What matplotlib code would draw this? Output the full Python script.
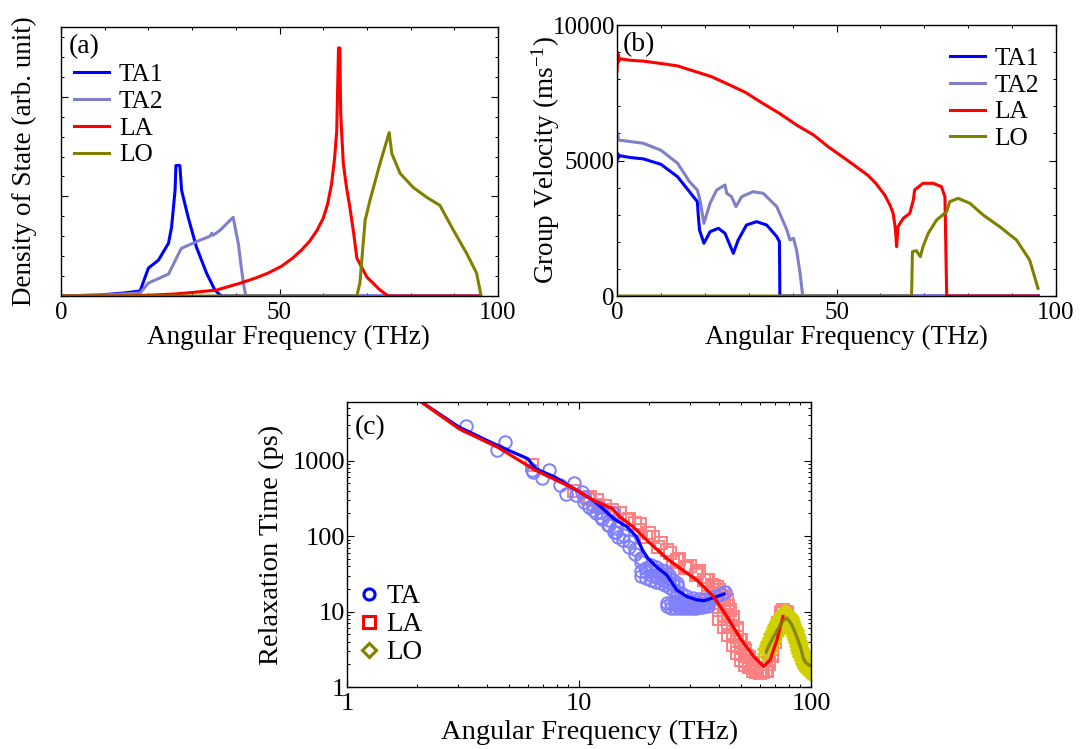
import matplotlib
matplotlib.use('Agg')
import matplotlib.pyplot as plt
from matplotlib.lines import Line2D
from matplotlib.ticker import MultipleLocator, NullFormatter, LogLocator

plt.rcParams['font.family'] = ['Liberation Serif', 'DejaVu Serif']
plt.rcParams['mathtext.fontset'] = 'custom'
plt.rcParams['mathtext.rm'] = 'Liberation Serif'
plt.rcParams['mathtext.it'] = 'Liberation Serif:italic'

# ---------------- (a) density of states ----------------
ta1_f = [0, 8.9, 14.3, 18.1, 20.0, 22.3, 24.6, 25.3, 26.1, 26.3, 27.2, 27.6, 29.1, 31.0, 33.3, 35.2, 36.4, 37.0, 96]
ta1_d = [0, 0.01, 0.03, 0.05, 0.28, 0.36, 0.53, 0.69, 1.06, 1.31, 1.31, 1.06, 0.79, 0.49, 0.23, 0.06, 0.01, 0, 0]
ta2_f = [0, 9.6, 18.1, 20.0, 24.6, 27.2, 27.6, 31.8, 34.1, 34.5, 34.8, 36.4, 39.4, 40.6, 41.3, 41.9, 42.3, 96]
ta2_d = [0, 0.01, 0.03, 0.13, 0.22, 0.45, 0.48, 0.56, 0.60, 0.63, 0.61, 0.66, 0.79, 0.52, 0.27, 0.09, 0, 0]
la_f = [0, 15, 20, 26, 30, 35.6, 41.1, 44.5, 47.4, 50.5, 53.0, 55.0, 56.9, 58.6, 60.0, 61.0, 61.9, 62.6, 63.1, 63.5,
        63.8, 64.0, 64.6, 65.3, 66.1, 67.0, 67.7, 70.0, 73.0, 74.9, 96]
la_d = [0, 0.003, 0.008, 0.02, 0.035, 0.06, 0.13, 0.18, 0.23, 0.30, 0.38, 0.46, 0.55, 0.66, 0.78, 0.92, 1.12, 1.38, 1.66,
        2.49, 2.49, 1.83, 1.33, 1.10, 0.89, 0.62, 0.38, 0.19, 0.06, 0, 0]
lo_f = [0, 67.7, 68.4, 69.0, 69.6, 70.7, 73.0, 75.1, 75.7, 77.6, 80.6, 83.7, 86.7, 89.8, 92.8, 95.1, 96.0, 96.1]
lo_d = [0, 0, 0.13, 0.45, 0.76, 0.96, 1.33, 1.64, 1.43, 1.23, 1.09, 0.99, 0.91, 0.66, 0.43, 0.23, 0.03, 0]

# ---------------- (b) group velocity ----------------
vta1_f = [0, 0.2, 0.3, 0.5, 3.0, 6.0, 10.0, 13.8, 16.5, 18.3, 18.5, 18.8, 19.8, 21.2, 23.1, 24.6, 26.5, 27.6,
          29.5, 31.8, 34.1, 36.4, 37.0, 37.1, 96]
vta1_v = [5000, 5250, 5100, 5180, 5110, 5060, 4860, 4400, 3850, 3480, 3000, 2435, 1944, 2373, 2498, 2314, 1575, 2066,
          2620, 2742, 2620, 2188, 2004, 0, 0]
vta2_f = [0, 0.15, 0.3, 3.0, 6.0, 10.0, 13.8, 16.5, 18.3, 18.9, 19.8, 21.2, 22.7, 24.6, 25.0, 26.1, 27.1, 28.4,
          31.0, 33.3, 36.4, 38.7, 39.4, 40.2, 40.9, 41.7, 42.3, 96]
vta2_v = [5900, 6000, 5756, 5700, 5635, 5380, 4900, 4220, 3911, 3542, 2683, 3420, 3911, 4096, 3789, 3664, 3295,
          3664, 3849, 3789, 3295, 2435, 2066, 2129, 1697, 838, 0, 0]
vla_f = [0, 0.1, 0.2, 0.3, 0.5, 0.8, 3.0, 6.1, 10.0, 13.8, 17.5, 21.5, 25.5, 29.3, 33.0, 37.0, 41.0, 44.8, 48.1,
         53.2, 57.1, 59.0, 61.0, 62.2, 62.9, 63.4, 63.7, 64.0, 65.2, 66.7, 67.5, 67.8, 69.7, 72.0, 73.9, 74.7, 75.1, 96]
vla_v = [8300, 9000, 8600, 8900, 8700, 8750, 8700, 8665, 8580, 8490, 8300, 8095, 7800, 7510, 7130, 6740, 6300,
         5940, 5510, 4925, 4460, 4150, 3720, 3350, 3050, 2500, 1820, 2555, 2865, 3050, 3542, 3911, 4159, 4159,
         4036, 3664, 0, 0]
vlo_f = [0, 67.1, 67.3, 68.2, 69.1, 69.7, 70.9, 72.8, 75.1, 75.8, 77.7, 80.4, 83.4, 87.2, 91.0, 94.0, 95.9]
vlo_v = [0, 0, 1636, 1673, 1451, 1820, 2314, 2805, 3112, 3480, 3603, 3420, 2989, 2555, 2066, 1328, 283]

# ---------------- (c) relaxation time ----------------
line_ta_f = [2.0, 3.04, 4.45, 6.02, 6.5, 7.86, 9.5, 11.5, 12.6, 14.1, 16.1, 17.7, 18.8, 19.6, 21.6, 23.9, 26.4,
             29.2, 32.2, 34.5, 37.3, 39.3, 42.2]
line_ta_t = [6600, 2790, 1595, 1062, 783, 608, 427, 299, 235, 171, 133, 98, 65, 53, 39, 30.5, 19.3, 15.8, 14.3,
             13.9, 15.0, 15.8, 17.1]
line_la_f = [2.0, 3.04, 4.45, 6.5, 9.5, 11.5, 13.9, 15.0, 17.1, 19.6, 23.9, 27.3, 32.2, 38.0, 43.4, 49.5, 56.6,
             62.5, 66.7, 71.3, 75.7]
line_la_t = [6600, 2650, 1515, 745, 427, 300, 232, 180, 133, 88.5, 50.7, 37.4, 26.2, 15.8, 8.6, 4.44, 2.54, 1.88,
             2.3, 4.2, 8.6]
line_lo_f = [64.0, 65.6, 69.0, 72.5, 75.7, 78.7, 82.0, 85.6, 89.9, 92.6, 95.0, 97.7, 100.0]
line_lo_t = [2.9, 3.45, 4.7, 6.0, 7.6, 8.2, 7.0, 5.2, 3.45, 2.42, 2.1, 1.97, 1.9]

ta_f = [3.27, 4.42, 4.8, 6.27, 6.35, 6.93, 7.45, 8.32, 8.75, 9.5, 9.68, 10.3, 11.0, 11.8, 12.2, 12.6, 13.3, 13.95,
        14.2, 14.7,
        10.5, 10.5, 11.5, 11.5, 12.5, 12.5, 13.5, 13.5, 14.5, 14.5, 15.5, 15.5, 16.5, 16.5, 17.5, 17.5, 18.5, 18.5,
        18.5, 18.5, 19.5, 19.5, 19.5, 20.5, 20.5, 20.5, 20.5, 21.5, 21.5, 21.5, 21.5, 22.5, 22.5, 22.5, 22.5,
        23.5, 23.5, 23.5, 23.5, 24.5, 24.5, 24.5, 24.5, 25.5, 25.5, 25.5, 26.5, 26.5, 26.5,
        24, 24, 25, 25, 26, 26, 26, 27, 27, 27, 28, 28, 28, 29, 29, 29, 30, 30, 30, 31, 31, 31, 32, 32, 33, 33,
        34, 34, 35, 35, 36, 36,
        27.5, 29, 31, 33, 35, 37, 39, 41, 42.6]
ta_t = [2860, 1376, 1775, 748, 700, 598, 748, 473, 367, 499, 349, 386, 244, 200, 244, 171, 140, 200, 114, 98,
        330, 280, 260, 220, 210, 180, 165, 140, 130, 112, 105, 90, 85, 72, 68, 58,
        52, 46, 30, 35, 28, 33, 38, 26, 31, 36, 42, 25, 29, 34, 39, 24, 27.5, 32, 36,
        22.5, 26, 30, 34, 21, 24.5, 28, 31, 19.5, 23, 26.5, 18, 21.5, 24,
        11.7, 13, 11.3, 12.8, 11.2, 12.5, 14, 11.1, 12.4, 14, 11.1, 12.3, 13.8, 11.1, 12.2, 13.7, 11.1, 12.2, 13.6,
        11.2, 12.3, 13.8, 11.3, 12.4, 11.4, 12.5, 11.5, 12.6, 11.7, 12.8, 12.0, 13.0,
        17.5, 16, 15, 14.5, 14.8, 15.2, 16, 17, 18.4]

la_sq_f = [6.26, 9.5, 10.9, 12.1, 14.2, 11.1, 11.9, 13.9, 13.0, 16.1, 16.5, 17.5, 18.1, 19.5, 20.0, 21.9, 22.5,
           24.6, 25.5, 27.0, 28.6, 30.0, 32.0, 33.0, 34.5, 37.3, 40.2,
           15.0, 18.3, 20.9, 23.9, 26.4, 29.2, 32.2, 35.6, 39.3, 41.9, 43.4, 44.9, 46.3, 47.9, 49.5, 51.2, 52.9,
           55.8, 58.5, 61.5, 64.6, 67.6, 71.3, 75.0, 78.7,
           36, 36, 36, 38, 38, 38, 40, 40, 40, 40, 42, 42, 42, 42, 44, 44, 44, 44, 46, 46, 46, 46, 48, 48, 48, 48,
           50, 50, 50, 50, 52, 52, 52, 52, 54, 54, 54, 56, 56, 56, 58, 58, 60, 60, 62, 62, 64,
           66, 66, 68, 68, 70, 70, 72, 72, 74, 74, 76, 78]
la_sq_t = [868, 398, 306, 257, 200, 331, 299, 221, 250, 162, 170, 150, 120, 98, 110, 72, 80, 59, 45, 50, 37.4, 40,
           30.5, 34, 26, 22.5, 19.3,
           200, 147, 98, 65, 48, 39, 32, 26, 21.4, 17.5, 14.3, 10.5, 7.8, 5.7, 4.2, 3.3, 2.54, 1.97, 1.69, 1.6,
           1.65, 2.54, 6.3, 10, 9.5,
           26, 20, 15.5, 22, 17, 13, 19.5, 14.5, 10.5, 8, 16, 12, 8.8, 6.3, 12, 9, 6.6, 4.9, 8.5, 6.4, 4.8, 3.6,
           6, 4.6, 3.5, 2.8, 4.2, 3.4, 2.7, 2.3, 3.1, 2.6, 2.2, 1.95, 2.5, 2.1, 1.85, 2.1, 1.8, 1.65, 1.8, 1.6,
           1.65, 1.55, 1.6, 1.58, 1.7,
           2.2, 2.0, 3.2, 2.7, 4.8, 4.0, 7.0, 6.0, 9.5, 8.5, 10.5, 9.8]

lo_dm_f = [64, 65, 66, 67, 68, 69, 70, 71, 72, 73, 74, 75, 76, 77, 78, 79, 80, 81, 82, 83, 84, 85, 86, 87, 88, 89, 90,
           91, 92, 93, 94, 95, 96, 97, 98, 99, 100,
           64, 65, 66, 67, 68, 69, 70, 71, 72, 73, 74, 75, 76, 77, 78, 79, 80, 81, 82, 83, 84, 85, 86, 87, 88, 89, 90,
           91, 92, 93, 94, 95, 96, 97, 98, 99, 100]
lo_dm_t = [3.2, 3.6, 4.0, 4.5, 5.0, 5.5, 6.0, 6.6, 7.2, 7.8, 8.4, 9.0, 9.4, 9.6, 9.5, 9.2, 8.7, 8.1, 7.5, 6.9, 6.3, 5.7,
           5.1, 4.6, 4.1, 3.7, 3.3, 3.0, 2.7, 2.5, 2.3, 2.15, 2.05, 2.0, 1.95, 1.95, 1.95,
           2.7, 3.0, 3.4, 3.8, 4.2, 4.7, 5.1, 5.6, 6.1, 6.6, 7.1, 7.6, 8.0, 8.2, 8.1, 7.8, 7.4, 6.9, 6.4, 5.9, 5.4,
           4.8, 4.3, 3.9, 3.5, 3.1, 2.8, 2.55, 2.3, 2.1, 1.95, 1.85, 1.75, 1.7, 1.65, 1.65, 1.65]

C_TA1 = '#0000ff'
C_TA2 = '#8080c8'
C_LA = '#ff0000'
C_LO = '#808000'

W, H = 1083, 749
fig = plt.figure(figsize=(W / 100, H / 100), dpi=100)


def box(l, r, t, b):
    return [l / W, 1 - b / H, (r - l) / W, (b - t) / H]


def style(ax, fs):
    ax.tick_params(which='both', direction='in', top=True, right=True, labelsize=fs)
    ax.tick_params(which='major', length=5, width=0.8, pad=4)
    ax.tick_params(which='minor', length=2.5, width=0.7)
    ax.tick_params(axis='y', which='major', pad=1.5)
    for s in ax.spines.values():
        s.set_linewidth(1.0)


LFS = 19.5
TFS = 18
LEG = dict(frameon=False, fontsize=18.3, borderpad=0, borderaxespad=0, handlelength=1.36,
           handletextpad=0.4, labelspacing=0.16)

# (a)
axa = fig.add_axes(box(61, 498, 27, 296))
axa.plot(ta1_f, ta1_d, color=C_TA1, lw=2.2, label='TA1')
axa.plot(ta2_f, ta2_d, color=C_TA2, lw=2.2, label='TA2')
axa.plot(la_f, la_d, color=C_LA, lw=2.2, label='LA')
axa.plot(lo_f, lo_d, color=C_LO, lw=2.2, label='LO')
axa.set_xlim(0, 100)
axa.set_ylim(0, 2.7)
axa.xaxis.set_major_locator(MultipleLocator(50))
axa.xaxis.set_minor_locator(MultipleLocator(10))
axa.yaxis.set_major_locator(MultipleLocator(1))
axa.yaxis.set_minor_locator(MultipleLocator(0.2))
style(axa, TFS)
axa.set_yticklabels([])
axa.set_xlabel('Angular Frequency (THz)', fontsize=LFS)
axa.xaxis.set_label_coords(0.521, -0.108)
axa.set_ylabel('Density of State (arb. unit)', fontsize=LFS)
axa.yaxis.set_label_coords(-0.055, 0.5)
axa.text(0.018, 0.975, '(a)', transform=axa.transAxes, ha='left', va='top', fontsize=20)
axa.legend(loc='upper left', bbox_to_anchor=(0.030, 0.866), **LEG)

# (b)
axb = fig.add_axes(box(617, 1056, 25, 296))
axb.plot(vta1_f, vta1_v, color=C_TA1, lw=2.2, label='TA1')
axb.plot(vta2_f, vta2_v, color=C_TA2, lw=2.2, label='TA2')
axb.plot(vla_f, vla_v, color=C_LA, lw=2.2, label='LA')
axb.plot(vlo_f, vlo_v, color=C_LO, lw=2.2, label='LO')
axb.set_xlim(0, 100)
axb.set_ylim(0, 10000)
axb.xaxis.set_major_locator(MultipleLocator(50))
axb.xaxis.set_minor_locator(MultipleLocator(10))
axb.yaxis.set_major_locator(MultipleLocator(5000))
axb.yaxis.set_minor_locator(MultipleLocator(1000))
style(axb, TFS)
axb.set_xlabel('Angular Frequency (THz)', fontsize=LFS)
axb.xaxis.set_label_coords(0.5226, -0.107)
axb.set_ylabel('Group Velocity (ms$^{-1}$)', fontsize=LFS)
axb.yaxis.set_label_coords(-0.125, 0.5)
axb.text(0.014, 0.975, '(b)', transform=axb.transAxes, ha='left', va='top', fontsize=20)
axb.legend(loc='upper left', bbox_to_anchor=(0.7585, 0.919), **LEG)

# (c)
axc = fig.add_axes(box(347, 811, 402, 687))
axc.set_xscale('log')
axc.set_yscale('log')
axc.plot(la_sq_f, la_sq_t, ls='none', marker='s', ms=9, mfc='none', mec='#ff8080', mew=1.4)
axc.plot(ta_f, ta_t, ls='none', marker='o', ms=9, mfc='none', mec='#8080ff', mew=1.4)
axc.plot(lo_dm_f, lo_dm_t, ls='none', marker='D', ms=8, mfc='none', mec='#d0d000', mew=1.8)
axc.plot(line_ta_f, line_ta_t, color=C_TA1, lw=2.3)
axc.plot(line_la_f, line_la_t, color=C_LA, lw=2.3)
axc.plot(line_lo_f, line_lo_t, color='#7a7a10', lw=2.3, alpha=0.85)
axc.set_xlim(1, 100)
axc.set_ylim(1, 6000)
axc.set_xticks([1, 10, 100])
axc.set_xticklabels(['1', '10', '100'])
axc.set_yticks([1, 10, 100, 1000])
axc.set_yticklabels(['1', '10', '100', '1000'])
axc.xaxis.set_minor_locator(LogLocator(base=10, subs=range(2, 10), numticks=20))
axc.yaxis.set_minor_locator(LogLocator(base=10, subs=range(2, 10), numticks=20))
axc.xaxis.set_minor_formatter(NullFormatter())
axc.yaxis.set_minor_formatter(NullFormatter())
style(axc, 19)
axc.set_xlabel('Angular Frequency (THz)', fontsize=20.5)
axc.xaxis.set_label_coords(0.523, -0.116)
axc.set_ylabel('Relaxation Time (ps)', fontsize=20.5)
axc.yaxis.set_label_coords(-0.135, 0.5)
axc.text(0.017, 0.955, '(c)', transform=axc.transAxes, ha='left', va='top', fontsize=20)
handles = [Line2D([], [], ls='none', marker='o', ms=8, mfc='none', mec='#0000ff', mew=2.2),
           Line2D([], [], ls='none', marker='s', ms=8, mfc='none', mec='#ff0000', mew=2.2),
           Line2D([], [], ls='none', marker='D', ms=7, mfc='none', mec='#808000', mew=2.2)]
axc.legend(handles, ['TA', 'LA', 'LO'], loc='upper left', bbox_to_anchor=(0.03, 0.36), frameon=False,
           fontsize=19.5, borderpad=0, borderaxespad=0, handlelength=0.6, handletextpad=0.35,
           labelspacing=0.105)

fig.savefig('out.png', dpi=100)
